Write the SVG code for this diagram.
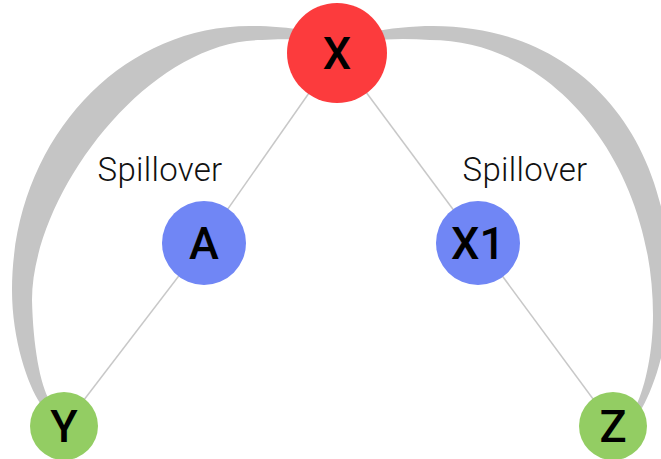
<svg xmlns="http://www.w3.org/2000/svg" width="661" height="459" viewBox="0 0 661 459">
<style>
.band{fill:#c5c5c5;stroke:none}
.link{stroke:#c8c8c8;stroke-width:1.5;fill:none}
.red{fill:#fc3b3d}
.blue{fill:#7086f5}
.green{fill:#93cd63}
.lbl{font-family:Roboto,"Liberation Sans",sans-serif;font-weight:500;font-size:45px;fill:#000;text-anchor:middle}
.note{font-family:Roboto,"Liberation Sans",sans-serif;font-weight:300;font-size:33px;letter-spacing:0.3px;fill:#111;text-anchor:middle}
</style>
<rect width="661" height="459" fill="#fff"/>
<g id="connectors">
<path class="band" d="M310,31 C285,27 268,26 250,26 C117,26 12,144 12,290 C12,340 28,385 40,403 L50,401 C40,385 33,345 32,300 C32,196 146,40 262,40 C280,39 295,39 310,41 Z"/>
<path class="band" d="M368,33 C390,28 412,26 433,26 C575,26 670,130 670,285 C670,340 655,385 642,408 L636,406 C646,385 653,350 653,315 C653,164 553,40 430,40 C410,39 390,38 368,42 Z"/>
<line class="link" x1="337" y1="53" x2="204" y2="243"/>
<line class="link" x1="204" y1="243" x2="64" y2="426"/>
<line class="link" x1="337" y1="53" x2="478" y2="243"/>
<line class="link" x1="478" y1="243" x2="613" y2="426"/>
<text class="note" x="160" y="181">Spillover</text>
<text class="note" x="525" y="181">Spillover</text>
</g>
<g id="node-X"><circle class="red" cx="337" cy="53" r="50"/><text class="lbl" x="337" y="69">X</text></g>
<g id="node-A"><circle class="blue" cx="204" cy="243" r="42"/><text class="lbl" x="204" y="259">A</text></g>
<g id="node-X1"><circle class="blue" cx="478" cy="243" r="42"/><text class="lbl" x="478" y="259">X1</text></g>
<g id="node-Y"><circle class="green" cx="64" cy="426" r="34"/><text class="lbl" x="64" y="442">Y</text></g>
<g id="node-Z"><circle class="green" cx="613" cy="426" r="34"/><text class="lbl" x="613" y="442">Z</text></g>
</svg>
